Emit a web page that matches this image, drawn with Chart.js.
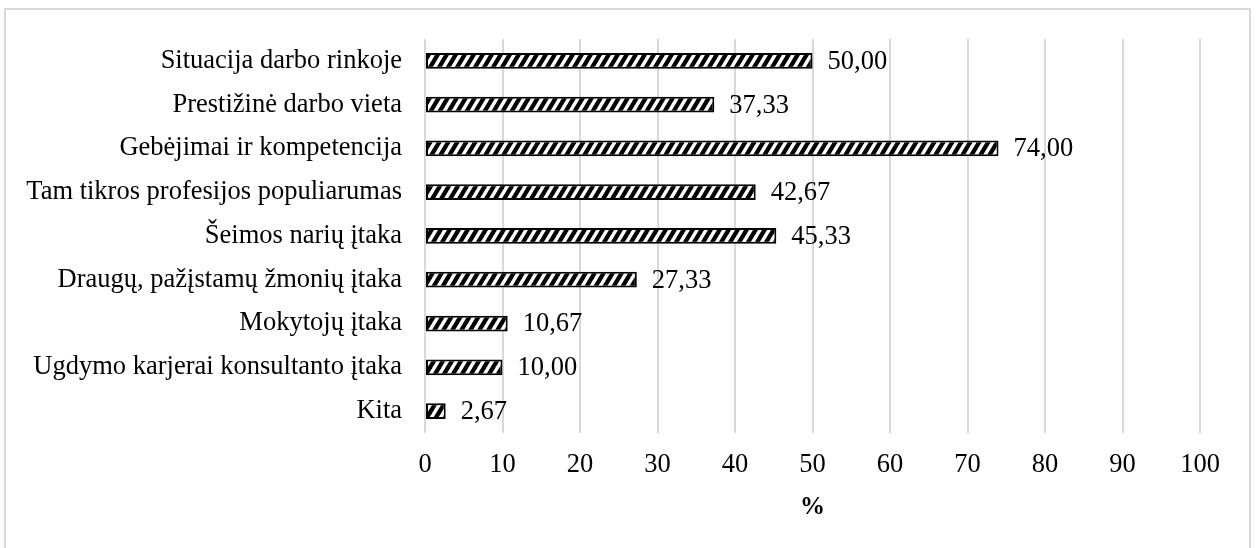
<!DOCTYPE html>
<html>
<head>
<meta charset="utf-8">
<script src="https://cdn.jsdelivr.net/npm/chart.js@4/dist/chart.umd.min.js"></script>
<style>
  html, body { margin: 0; padding: 0; background: #fff; overflow: hidden; }
  .frame { position: absolute; left: 4px; top: 8px; width: 1243px; height: 600px; border: 2px solid #d9d9d9; }
  .wrap { position: absolute; left: 0; top: 0; width: 1257px; height: 548px; }
</style>
</head>
<body>
<div class="frame"></div>
<div class="wrap"><canvas id="myChart" width="1257" height="548"></canvas></div>
<script>
const categories = [
  "Situacija darbo rinkoje",
  "Prestižinė darbo vieta",
  "Gebėjimai ir kompetencija",
  "Tam tikros profesijos populiarumas",
  "Šeimos narių įtaka",
  "Draugų, pažįstamų žmonių įtaka",
  "Mokytojų įtaka",
  "Ugdymo karjerai konsultanto įtaka",
  "Kita"
];
const values = [50.00, 37.33, 74.00, 42.67, 45.33, 27.33, 10.67, 10.00, 2.67];
const xTicks = [0, 10, 20, 30, 40, 50, 60, 70, 80, 90, 100];
const axisTitle = "%";

const serif = "'Liberation Serif', 'Times New Roman', serif";
const fontSize = 26.5;

const ctx = document.getElementById("myChart").getContext("2d");

// diagonal "/" hatch like the Excel pattern fill
function makeHatch() {
  const w = 9, h = 15, black = 5;
  const c = document.createElement("canvas");
  c.width = w;
  c.height = h;
  const g = c.getContext("2d");
  g.fillStyle = "#fff";
  g.fillRect(0, 0, w, h);
  g.fillStyle = "#000";
  for (let x0 = -w; x0 <= w; x0 += w) {
    g.beginPath();
    g.moveTo(x0, h);
    g.lineTo(x0 + black, h);
    g.lineTo(x0 + black + w, 0);
    g.lineTo(x0 + w, 0);
    g.closePath();
    g.fill();
  }
  return ctx.createPattern(c, "repeat");
}
const hatch = makeHatch();

const valueLabels = {
  id: "valueLabels",
  afterDatasetsDraw(chart) {
    const c = chart.ctx;
    const meta = chart.getDatasetMeta(0);
    c.save();
    c.font = fontSize + "px " + serif;
    c.fillStyle = "#000";
    c.textAlign = "left";
    c.textBaseline = "middle";
    meta.data.forEach((bar, i) => {
      c.fillText(values[i].toFixed(2).replace(".", ","), bar.x + 15, bar.y + 1);
    });
    c.restore();
  }
};

new Chart(ctx, {
  type: "bar",
  data: {
    labels: categories,
    datasets: [
      {
        data: values,
        backgroundColor: hatch,
        borderColor: "#000",
        borderWidth: 2,
        borderSkipped: false,
        barPercentage: 0.36,
        categoryPercentage: 1,
      },
    ],
  },
  options: {
    indexAxis: "y",
    responsive: false,
    animation: false,
    layout: { padding: { top: 37, right: 57, bottom: 0, left: 0 } },
    plugins: {
      legend: { display: false },
      tooltip: { enabled: false },
    },
    scales: {
      x: {
        min: 0,
        max: 100,
        afterBuildTicks: (scale) => {
          scale.ticks = xTicks.map((v) => ({ value: v }));
        },
        afterFit: (scale) => {
          scale.height = 115;
        },
        grid: { color: "#d9d9d9", lineWidth: 2, drawTicks: false },
        border: { display: false },
        ticks: { color: "#000", font: { family: serif, size: fontSize }, padding: 16 },
        title: {
          display: true,
          text: axisTitle,
          color: "#000",
          font: { family: serif, size: 25, weight: "bold" },
          padding: { top: 0, bottom: 25 },
        },
      },
      y: {
        afterFit: (scale) => {
          scale.width = 425;
        },
        grid: { display: false, drawTicks: false },
        border: { display: false },
        ticks: { color: "#000", font: { family: serif, size: fontSize }, padding: 23 },
      },
    },
  },
  plugins: [valueLabels],
});
</script>
</body>
</html>
